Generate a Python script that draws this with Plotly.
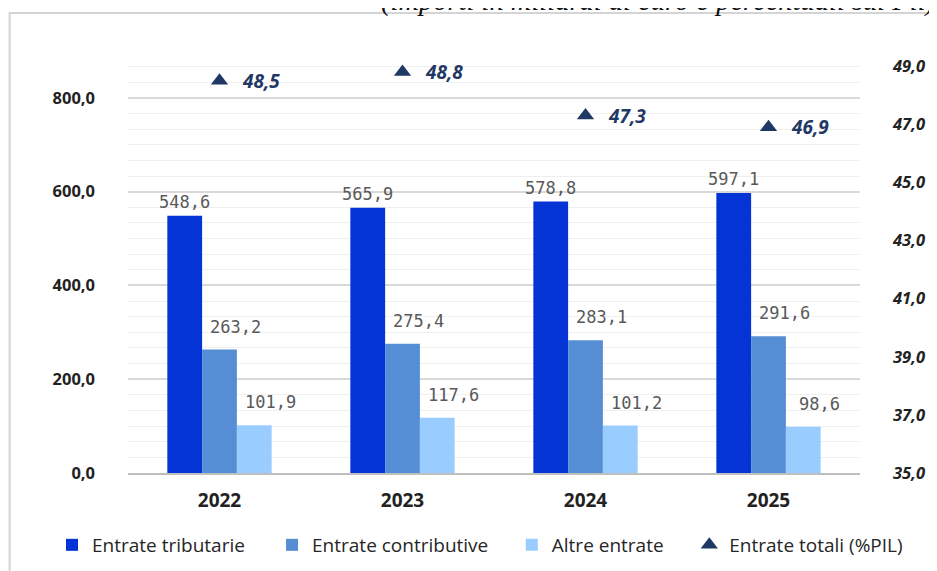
import plotly.graph_objects as go

anni = ["2022", "2023", "2024", "2025"]
entrate_tributarie = [548.6, 565.9, 578.8, 597.1]
entrate_contributive = [263.2, 275.4, 283.1, 291.6]
altre_entrate = [101.9, 117.6, 101.2, 98.6]
entrate_totali_pil = [48.5, 48.8, 47.3, 46.9]

COL_TRIB = "#0433D6"
COL_CONTR = "#558ED5"
COL_ALTRE = "#99CCFF"
COL_TOT = "#1F3864"
COL_LABEL = "#595959"

BARGAP = 0.43
BAR_W = (1 - BARGAP) / 3


def fmt(v):
    return f"{v:.1f}".replace(".", ",")


fig = go.Figure()
serie = [
    ("Entrate tributarie", entrate_tributarie, COL_TRIB, "legend"),
    ("Entrate contributive", entrate_contributive, COL_CONTR, "legend2"),
    ("Altre entrate", altre_entrate, COL_ALTRE, "legend3"),
]
for name, vals, col, leg in serie:
    fig.add_trace(go.Bar(name=name, x=anni, y=vals, marker_color=col,
                         marker_line_width=0, legend=leg))

fig.add_trace(go.Scatter(
    name="Entrate totali (%PIL)", x=anni, y=entrate_totali_pil, yaxis="y2",
    mode="markers", marker=dict(symbol="triangle-up", size=15, color=COL_TOT),
    legend="legend4",
))

# etichette dei valori sulle barre
for k, (name, vals, col, leg) in enumerate(serie):
    offset = (k - 1) * BAR_W
    for i, v in enumerate(vals):
        fig.add_annotation(
            x=i + offset, y=v, xref="x", yref="y",
            text=fmt(v), showarrow=False,
            yanchor="bottom", xshift=0 if k == 0 else 16, yshift=2 if k == 0 else 11,
            font=dict(size=17, color=COL_LABEL, family="DejaVu Sans Mono"),
        )

# etichette dei triangoli (% PIL)
for i, v in enumerate(entrate_totali_pil):
    fig.add_annotation(
        x=i, y=v, xref="x", yref="y2", text=fmt(v), showarrow=False,
        xanchor="left", yanchor="middle", xshift=20,
        font=dict(size=19, color=COL_TOT, weight="bold", style="italic", family="Open Sans"),
    )

fig.add_annotation(
    text="(importi in miliardi di euro e percentuali sul Pil)",
    xref="paper", yref="paper", x=1.105, y=1.077, xanchor="right", yanchor="bottom",
    showarrow=False, font=dict(family="Liberation Serif", size=28.5, style="italic", color="#111"),
)

fig.add_shape(
    type="rect", xref="paper", yref="paper", x0=-0.1617, x1=1.2, y0=-0.4, y1=1.090,
    line=dict(color="#d4d4d4", width=2), layer="below",
)

legend_style = dict(
    orientation="h", yref="container", y=0.0462, xanchor="left", yanchor="middle",
    font=dict(size=19, color="#262626"), bgcolor="rgba(0,0,0,0)",
)

fig.update_layout(
    width=929, height=563,
    margin=dict(l=120, r=67, t=43, b=98),
    paper_bgcolor="white", plot_bgcolor="white",
    barmode="group", bargap=BARGAP, bargroupgap=0,
    separators=",.",
    font=dict(family="Open Sans", color="#222"),
    xaxis=dict(
        type="category", showgrid=False, showline=True, linecolor="#bfbfbf", linewidth=2,
        ticks="", tickfont=dict(size=19, weight="bold", color="#222"), ticklabelstandoff=9,
    ),
    yaxis=dict(
        range=[0, 900], dtick=200, tick0=0, tickformat=".1f",
        showgrid=True, gridcolor="#d9d9d9", gridwidth=1.5, zeroline=False,
        tickfont=dict(size=16.5, weight="bold", color="#222"), ticklabelstandoff=32,
        minor=dict(dtick=100 / 3, tick0=0, showgrid=True, gridcolor="#efefef", gridwidth=1),
    ),
    yaxis2=dict(
        overlaying="y", side="right", range=[35, 49.52],
        tickvals=[35, 37, 39, 41, 43, 45, 47, 49], tickformat=".1f",
        showgrid=False, zeroline=False,
        tickfont=dict(size=16.5, weight="bold", style="italic", color="#222"),
        ticklabelstandoff=32,
    ),
    showlegend=True,
    legend=dict(x=-0.1038, **legend_style),
    legend2=dict(x=0.1968, **legend_style),
    legend3=dict(x=0.5243, **legend_style),
    legend4=dict(x=0.7668, **legend_style),
)

fig.write_html("out.html")
